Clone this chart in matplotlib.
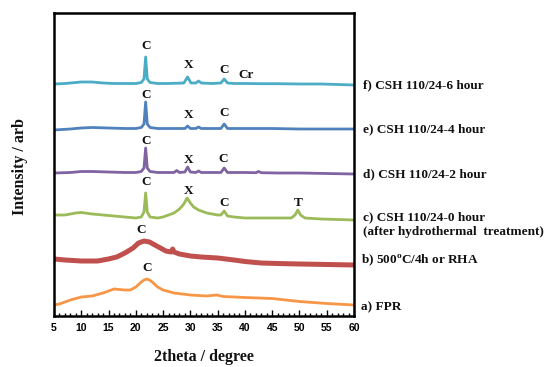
import matplotlib
matplotlib.use('Agg')
import matplotlib.pyplot as plt
from matplotlib.ticker import MultipleLocator

plt.rcParams['mathtext.fontset'] = 'custom'
plt.rcParams['mathtext.rm'] = 'Liberation Serif:bold'
plt.rcParams['mathtext.it'] = 'Liberation Serif:bold'

# XRD patterns, intensity above each trace's own baseline (arb units)
a_x = [5, 6, 8, 10, 12, 14, 15, 16, 17, 18, 19, 20, 21, 21.5, 22, 22.5, 23, 24, 25, 27, 30, 33, 34.8, 36, 40, 45, 50, 55, 60]
a_y = [0, 1, 5, 8, 9, 12, 14, 16, 15.5, 15, 15, 18, 23, 25, 26, 25, 23, 18, 15, 12, 10, 9, 10, 8.5, 7.5, 6.5, 3.5, 1.5, 0]

b_x = [5, 7, 10, 13, 15, 16.5, 18, 19.5, 20.5, 21.5, 22.5, 23.5, 24.5, 25.5, 26.5, 26.75, 27.0, 28, 30, 32, 35, 38, 40, 43, 46, 50, 55, 60]
b_y = [1, 0, -1, -1, 1, 3, 7, 12, 17, 19, 18, 15, 12, 9, 8, 11, 8, 6, 4, 3, 2, 0, -1.5, -3, -3.5, -4, -4.5, -5]

c_x = [5, 7, 9, 10, 12, 14, 16, 18, 20, 21.0, 21.5, 21.8, 22.1, 22.6, 24, 25, 26, 27, 28, 28.8, 29.4, 30.0, 30.6, 31.5, 33, 35,
       35.6, 36.2, 36.8, 38, 40, 43, 46, 48.5, 49.2, 49.7, 50.2, 51, 54, 57, 60]
c_y = [1, 1, 3, 3.5, 2, 1, 0, -1, -2, -1, 4, 23, 4, -1, -2, -1, 1, 3, 7, 12, 18, 13, 9, 6, 3, 1,
       1, 5, 0, -1, -2, -2, -2, -2, 1, 6, 1, -2, -3, -3.5, -4]

d_x = [5, 8, 10, 12, 15, 18, 20, 21.0, 21.5, 21.8, 22.1, 22.6, 24, 27.0, 27.5, 28.0, 29.0, 29.5, 30.0, 31.0, 31.5, 32.0,
       35.6, 36.2, 36.8, 40, 42.0, 42.5, 43.0, 46, 50, 55, 60]
d_y = [0, 0.5, 1.5, 1.5, 1, 0.5, 0.5, 1.5, 5, 25, 5, 1.5, 0.5, 0.5, 2.5, 0.5, 1, 6, 1, 0.5, 2, 0.5,
       0.5, 5, 0.5, 0.5, 0.3, 1.5, 0.3, 0, 0, -0.5, -1]

e_x = [5, 8, 10, 12, 15, 18, 20, 21.0, 21.5, 21.8, 22.1, 22.6, 24, 27, 29.0, 29.5, 30.0, 31.0, 31.5, 32.0,
       35.6, 36.2, 36.8, 40, 45, 50, 55, 60]
e_y = [-1, 0, 1, 1.5, 1, 0.5, 0.5, 1.5, 5, 27, 5, 1.5, 0.5, 0.5, 0.5, 3, 0.5, 0.5, 2, 0.5,
       0.5, 5, 0.5, 0.5, 0.5, 0, 0, 0]

f_x = [5, 7, 9, 10, 12, 14, 16, 18, 20, 21.0, 21.5, 21.8, 22.1, 22.6, 24, 26, 28.8, 29.5, 30.1, 31.0, 31.5, 32.0,
       34, 35.6, 36.2, 36.8, 38, 40, 43, 46, 50, 54, 57, 60]
f_y = [0, 0.5, 1.5, 2, 2, 1, 0.5, 0.5, 0.5, 1.5, 5, 27, 5, 1.5, 0.5, 0.5, 1, 7, 1, 1, 3, 1,
       0.5, 1, 5, 1, 0.5, 0.5, 0.3, 0.3, 0, 0, -0.5, -1]

offsets = [11, 56, 100, 143, 187, 232]
colors = ['#F79646', '#C0504D', '#9BBB59', '#8064A2', '#4F81BD', '#4BACC6']
widths = [2.0, 3.6, 2.0, 2.0, 2.0, 2.0]
series_labels = ['a) FPR',
                 'b) 500$^{\\mathrm{o}}$C/4h or RHA',
                 'c) CSH 110/24-0 hour\n(after hydrothermal  treatment)',
                 'd) CSH 110/24-2 hour',
                 'e) CSH 110/24-4 hour',
                 'f) CSH 110/24-6 hour']
label_y = [9, 56, 91.5, 142, 187, 231]
label_x = [61.3, 61.3, 61.7, 61.7, 61.7, 61.7]

# phase labels: (text, 2theta, height)
peaks = [('C', 22.1, 48),
         ('C', 21.0, 86),
         ('C', 21.9, 134), ('X', 29.6, 125), ('C', 36.2, 113), ('T', 49.7, 113),
         ('C', 21.9, 175), ('X', 29.6, 156), ('C', 36.0, 157),
         ('C', 21.9, 221), ('X', 29.6, 201), ('C', 36.2, 203),
         ('C', 21.9, 270), ('X', 29.6, 251), ('C', 36.2, 246), ('Cr', 40.2, 241)]

xs = [a_x, b_x, c_x, d_x, e_x, f_x]
ys = [a_y, b_y, c_y, d_y, e_y, f_y]

fig = plt.figure(figsize=(5.5, 3.67), dpi=100)
ax = fig.add_axes([54 / 550, 1 - 316 / 367, 300 / 550, 303 / 367])

for x, y, off, c, lw in zip(xs, ys, offsets, colors, widths):
    ax.plot(x, [v + off for v in y], color=c, lw=lw, solid_joinstyle='round')

serif = dict(family='Liberation Serif', weight='bold', color='#111111')
for txt, lx, ly in zip(series_labels, label_x, label_y):
    ax.text(lx, ly, txt, fontsize=9.5, ha='left', va='center', clip_on=False,
            linespacing=1.25, **serif)
for txt, px, py in peaks:
    ax.text(px, py, txt, fontsize=9.5, ha='center', va='center', **serif)

ax.set_xlim(5, 60)
ax.set_ylim(0, 303)
ax.set_yticks([])
ax.xaxis.set_major_locator(MultipleLocator(5))
ax.xaxis.set_minor_locator(MultipleLocator(1))
ax.tick_params(axis='x', which='major', direction='in', length=4, width=1, pad=5)
ax.tick_params(axis='x', which='minor', direction='in', length=2.5, width=1)
for lab in ax.get_xticklabels():
    lab.set_fontfamily('Liberation Sans')
    lab.set_fontweight('bold')
    lab.set_fontsize(7.5)
for s in ax.spines.values():
    s.set_linewidth(1.8)

fig.text(20 / 550, 1 - 167 / 367, 'Intensity / arb', rotation=90, fontsize=11.5,
         ha='center', va='center', **serif)
fig.text(204 / 550, 1 - 357 / 367, '2theta / degree', fontsize=11.5,
         ha='center', va='center', **serif)

fig.savefig('out.png', dpi=100)
